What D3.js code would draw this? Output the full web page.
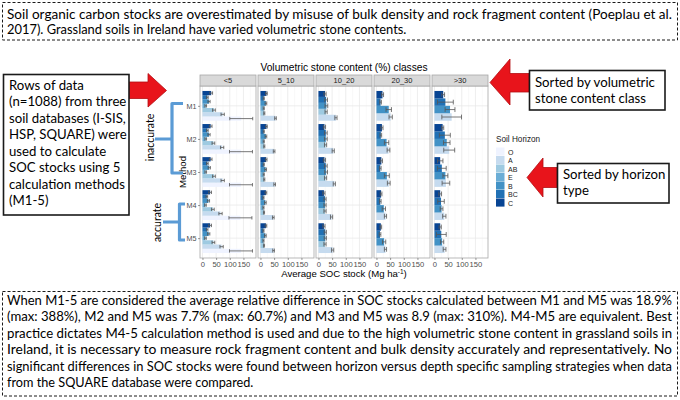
<!DOCTYPE html>
<html>
<head>
<meta charset="utf-8">
<script src="https://cdn.jsdelivr.net/npm/d3@7"></script>
<style>
  body { margin: 0; background: #fff; }
  svg { display: block; }
  .txt { font-family: Lato, "Open Sans", sans-serif; fill: #000; }
  .gg  { font-family: "Liberation Sans", Arial, sans-serif; }
</style>
</head>
<body>
<svg id="chart" width="680" height="400"></svg>
<script>
/* ------------------------------------------------------------
   Data: average SOC stock (Mg/ha) per calculation method,
   stone content class and soil horizon
   ------------------------------------------------------------ */
const methods = ['M1', 'M2', 'M3', 'M4', 'M5'];
const stoneClasses = ['<5', '5_10', '10_20', '20_30', '>30'];
const horizonLevels = ['O', 'A', 'AB', 'E', 'B', 'BC', 'C'];

// horizons present in each stone class
const horizonsLt5   = ['O', 'A', 'AB', 'E', 'B', 'BC', 'C'];
const horizons5_10  = ['A', 'AB', 'E', 'B', 'BC', 'C'];
const horizons10_20 = ['A', 'AB', 'B', 'BC', 'C'];
const horizons20_30 = ['A', 'B', 'BC', 'C'];
const horizonsGt30  = ['A', 'B', 'BC', 'C'];

// rows = M1..M5, columns follow the horizon list of the class
const socLt5 = [
  [142, 74, 42, 12, 24, 18, 32],
  [141, 72, 40, 12, 24, 18, 30],
  [141, 74, 42, 12, 25, 18, 30],
  [139, 66, 38, 11, 22, 16, 28],
  [141, 70, 40, 11, 23, 17, 28]
];
const errLt5 = [
  [42, 6, 5, 3, 4, 3, 5],
  [42, 6, 5, 3, 4, 3, 5],
  [42, 6, 5, 3, 4, 3, 5],
  [42, 6, 5, 3, 4, 3, 5],
  [42, 6, 5, 3, 4, 3, 5]
];

const soc5_10 = [
  [55, 14, 12, 20, 12, 22],
  [50, 14, 12, 20, 12, 22],
  [52, 14, 12, 19, 12, 21],
  [47, 13, 11, 18, 11, 20],
  [48, 13, 11, 18, 11, 20]
];
const err5_10 = [
  [3, 2, 2, 3, 2, 3],
  [3, 2, 2, 3, 2, 3],
  [3, 2, 2, 3, 2, 3],
  [3, 2, 2, 3, 2, 3],
  [3, 2, 2, 3, 2, 3]
];

const soc10_20 = [
  [64, 28, 29, 28, 24],
  [54, 26, 27, 27, 22],
  [58, 26, 28, 27, 22],
  [48, 24, 24, 24, 20],
  [52, 24, 25, 25, 20]
];
const err10_20 = [
  [4, 4, 5, 5, 4],
  [4, 4, 5, 5, 4],
  [4, 4, 5, 5, 4],
  [4, 4, 4, 4, 4],
  [4, 4, 4, 4, 4]
];

const soc20_30 = [
  [52, 45, 15, 22],
  [44, 37, 16, 20],
  [45, 38, 14, 18],
  [33, 27, 14, 17],
  [33, 28, 13, 16]
];
const err20_30 = [
  [6, 10, 3, 4],
  [5, 8, 3, 4],
  [5, 9, 3, 4],
  [4, 6, 3, 3],
  [4, 6, 3, 3]
];

const socGt30 = [
  [63, 57, 40, 32],
  [54, 45, 38, 30],
  [42, 40, 27, 21],
  [36, 26, 24, 21],
  [37, 28, 25, 21]
];
const errGt30 = [
  [36, 18, 29, 5],
  [20, 12, 20, 4],
  [14, 9, 16, 10],
  [6, 5, 12, 5],
  [5, 6, 18, 4]
];

const classHorizons = [horizonsLt5, horizons5_10, horizons10_20, horizons20_30, horizonsGt30];
const classMeans = [socLt5, soc5_10, soc10_20, soc20_30, socGt30];
const classErrs = [errLt5, err5_10, err10_20, err20_30, errGt30];

const xTicks = [0, 50, 100, 150];
const xMinor = [25, 75, 125, 175];

// text of the annotation boxes
const topLines = [
  'Soil organic carbon stocks are overestimated by misuse of bulk density and rock fragment content (Poeplau et al.',
  '2017). Grassland soils in Ireland have varied volumetric stone contents.'
];
const leftLines = [
  'Rows of data', '(n=1088) from three', 'soil databases (I-SIS,', 'HSP, SQUARE) were',
  'used to calculate', 'SOC stocks using 5', 'calculation methods', '(M1-5)'
];
const stoneNoteLines = ['Sorted by volumetric', 'stone content class'];
const horizonNoteLines = ['Sorted by horizon', 'type'];
const bottomLines = [
  'When M1-5 are considered the average relative difference in SOC stocks calculated between M1 and M5 was 18.9%',
  '(max: 388%), M2 and M5 was 7.7% (max: 60.7%) and M3 and M5 was 8.9 (max: 310%). M4-M5 are equivalent. Best',
  'practice dictates M4-5 calculation method is used and due to the high volumetric stone content in grassland soils in',
  'Ireland, it is necessary to measure rock fragment content and bulk density accurately and representatively. No',
  'significant differences in SOC stocks were found between horizon versus depth specific sampling strategies when data',
  'from the SQUARE database were compared.'
];

/* ------------------------------------------------------------
   Layout
   ------------------------------------------------------------ */
const svg = d3.select('#chart');
svg.append('rect').attr('width', 680).attr('height', 400).attr('fill', '#fff');

const PANEL = { left: 200, step: 58, width: 56, top: 86, bottom: 258, stripTop: 75 };
const BLUES = ['#eff3ff', '#c6dbef', '#9ecae1', '#6baed6', '#4292c6', '#2171b5', '#084594'];

const color = d3.scaleOrdinal().domain(horizonLevels).range(BLUES);
const x = d3.scaleLinear().domain([-9, 196]).range([0, PANEL.width]);
const y = d3.scalePoint().domain(methods).range([PANEL.top, PANEL.bottom]).padding(0.6);
const groupHalf = y.step() * 0.45;

/* ---------- facet panels ---------- */
stoneClasses.forEach(function(cls, i) {
  const g = svg.append('g')
    .attr('class', 'gg')
    .attr('transform', `translate(${PANEL.left + i * PANEL.step},0)`);

  // panel background + grid
  g.append('rect')
    .attr('y', PANEL.top).attr('width', PANEL.width).attr('height', PANEL.bottom - PANEL.top)
    .attr('fill', '#fff');

  g.selectAll('.minor').data(xMinor).join('line')
    .attr('x1', d => x(d)).attr('x2', d => x(d))
    .attr('y1', PANEL.top).attr('y2', PANEL.bottom)
    .attr('stroke', '#f3f3f3').attr('stroke-width', 0.5);

  g.selectAll('.major').data(xTicks).join('line')
    .attr('x1', d => x(d)).attr('x2', d => x(d))
    .attr('y1', PANEL.top).attr('y2', PANEL.bottom)
    .attr('stroke', '#e8e8e8').attr('stroke-width', 0.8);

  g.selectAll('.hgrid').data(methods).join('line')
    .attr('x1', 0).attr('x2', PANEL.width)
    .attr('y1', d => y(d)).attr('y2', d => y(d))
    .attr('stroke', '#e8e8e8').attr('stroke-width', 0.8);

  // dodged bars: first horizon at the bottom of each group
  const horizons = classHorizons[i];
  const inner = d3.scaleBand()
    .domain(horizons.slice().reverse())
    .range([-groupHalf, groupHalf]);
  const capHalf = Math.min(inner.bandwidth() * 0.4, 2.4);

  const rows = [];
  methods.forEach(function(m, mi) {
    horizons.forEach(function(h, hi) {
      rows.push({
        method: m, horizon: h,
        value: classMeans[i][mi][hi],
        err: classErrs[i][mi][hi]
      });
    });
  });

  g.selectAll('.bar').data(rows).join('rect')
    .attr('x', x(0))
    .attr('y', d => y(d.method) + inner(d.horizon))
    .attr('width', d => x(d.value) - x(0))
    .attr('height', inner.bandwidth())
    .attr('fill', d => color(d.horizon));

  const eb = g.selectAll('.err').data(rows).join('g')
    .attr('stroke', '#555').attr('stroke-width', 0.8).attr('fill', 'none');
  eb.append('line')
    .attr('x1', d => x(d.value - d.err)).attr('x2', d => x(d.value + d.err))
    .attr('y1', d => y(d.method) + inner(d.horizon) + inner.bandwidth() / 2)
    .attr('y2', d => y(d.method) + inner(d.horizon) + inner.bandwidth() / 2);
  [-1, 1].forEach(function(s) {
    eb.append('line')
      .attr('x1', d => x(d.value + s * d.err)).attr('x2', d => x(d.value + s * d.err))
      .attr('y1', d => y(d.method) + inner(d.horizon) + inner.bandwidth() / 2 - capHalf)
      .attr('y2', d => y(d.method) + inner(d.horizon) + inner.bandwidth() / 2 + capHalf);
  });

  // panel border
  g.append('rect')
    .attr('y', PANEL.top).attr('width', PANEL.width).attr('height', PANEL.bottom - PANEL.top)
    .attr('fill', 'none').attr('stroke', '#a8a8a8').attr('stroke-width', 0.8);

  // strip
  g.append('rect')
    .attr('y', PANEL.stripTop).attr('width', PANEL.width).attr('height', PANEL.top - PANEL.stripTop)
    .attr('fill', '#d9d9d9').attr('stroke', '#a8a8a8').attr('stroke-width', 0.8);
  g.append('text')
    .attr('x', PANEL.width / 2).attr('y', PANEL.top - 3)
    .attr('text-anchor', 'middle')
    .attr('font-size', 7.5).attr('fill', '#1a1a1a')
    .text(cls);

  // x axis
  const ax = g.append('g')
    .attr('transform', `translate(0,${PANEL.bottom})`)
    .call(d3.axisBottom(x).tickValues(xTicks).tickSize(2).tickPadding(1.5));
  ax.select('.domain').remove();
  ax.selectAll('line').attr('stroke', '#555').attr('stroke-width', 0.6);
  ax.selectAll('text').attr('font-size', 7.6).attr('fill', '#4d4d4d')
    .attr('font-family', '"Liberation Sans", Arial, sans-serif');

  // y axis on the first panel only
  if (i === 0) {
    const ay = g.append('g').call(d3.axisLeft(y).tickSize(2).tickPadding(1.5));
    ay.select('.domain').remove();
    ay.selectAll('line').attr('stroke', '#555').attr('stroke-width', 0.6);
    ay.selectAll('text').attr('font-size', 7.2).attr('fill', '#4d4d4d')
      .attr('font-family', '"Liberation Sans", Arial, sans-serif');
  }
});

const facetMid = PANEL.left + (PANEL.step * 4 + PANEL.width) / 2;

svg.append('text').attr('class', 'gg')
  .attr('x', facetMid).attr('y', 70.5)
  .attr('text-anchor', 'middle').attr('font-size', 10.2)
  .text('Volumetric stone content (%) classes');

const xTitle = svg.append('text').attr('class', 'gg')
  .attr('x', facetMid).attr('y', 277)
  .attr('text-anchor', 'middle').attr('font-size', 9.6);
xTitle.append('tspan').text('Average SOC stock (Mg ha');
xTitle.append('tspan').attr('dy', -3.5).attr('font-size', 6.5).text('-1');
xTitle.append('tspan').attr('dy', 3.5).text(')');

svg.append('text').attr('class', 'gg')
  .attr('transform', 'translate(185.5,172) rotate(-90)')
  .attr('text-anchor', 'middle').attr('font-size', 9.6)
  .text('Method');

/* ---------- legend ---------- */
const legend = svg.append('g').attr('class', 'gg').attr('transform', 'translate(496,0)');
legend.append('text').attr('x', 0).attr('y', 142)
  .attr('font-size', 8.2).attr('fill', '#1a1a1a').text('Soil Horizon');
const keyY = d3.scaleBand().domain(horizonLevels).range([147.5, 207]);
legend.selectAll('.key').data(horizonLevels).join('rect')
  .attr('x', 0).attr('y', d => keyY(d))
  .attr('width', 8.5).attr('height', keyY.bandwidth() - 0.4)
  .attr('fill', d => color(d));
legend.selectAll('.klab').data(horizonLevels).join('text')
  .attr('x', 12).attr('y', d => keyY(d) + keyY.bandwidth() - 1.5)
  .attr('font-size', 7).attr('fill', '#1a1a1a').text(d => d);

/* ---------- brackets ---------- */
const BRACKET = '#5b9bd5';
svg.append('path')
  .attr('d', 'M183,103.5 H172 V173 H183 M172,139 H155')
  .attr('fill', 'none').attr('stroke', BRACKET).attr('stroke-width', 3.2)
  .attr('stroke-linejoin', 'round');
svg.append('path')
  .attr('d', 'M185,204 H179.5 V240 H185 M179.5,222 H163')
  .attr('fill', 'none').attr('stroke', BRACKET).attr('stroke-width', 3.2)
  .attr('stroke-linejoin', 'round');
svg.append('text').attr('class', 'txt')
  .attr('transform', 'translate(153.5,137.5) rotate(-90)')
  .attr('text-anchor', 'middle').attr('font-size', 10.5).text('inaccurate');
svg.append('text').attr('class', 'txt')
  .attr('transform', 'translate(160.5,222.5) rotate(-90)')
  .attr('text-anchor', 'middle').attr('font-size', 10.5).text('accurate');

/* ---------- red arrows ---------- */
function arrow(points) {
  svg.append('polygon')
    .attr('points', points.map(p => p.join(',')).join(' '))
    .attr('fill', '#e8141b').attr('stroke', '#b30d12').attr('stroke-width', 0.8);
}
// left box -> chart
arrow([[129, 82], [148, 82], [148, 73.5], [166.5, 90.5], [148, 107], [148, 98.5], [129, 98.5]]);
// strips <- note
arrow([[529, 73.5], [510, 73.5], [510, 59], [490, 82.5], [510, 105], [510, 92], [529, 92]]);
// legend <- note
arrow([[557, 167.5], [543, 167.5], [543, 158], [527, 177.5], [543, 197], [543, 187.5], [557, 187.5]]);

/* ---------- text boxes ---------- */
function box(x0, y0, w, h, dashed) {
  svg.append('rect')
    .attr('x', x0).attr('y', y0).attr('width', w).attr('height', h)
    .attr('fill', '#fff').attr('stroke', '#1a1a1a')
    .attr('stroke-width', dashed ? 1 : 1.6)
    .attr('stroke-dasharray', dashed ? '3,2' : null);
}
function lines(arr, x0, y0, dy, size, justifyWidth) {
  arr.forEach(function(t, i) {
    const el = svg.append('text').attr('class', 'txt')
      .attr('x', x0).attr('y', y0 + i * dy)
      .attr('font-size', size)
      .text(t);
    if (justifyWidth && i < arr.length - 1) {
      el.attr('textLength', justifyWidth).attr('lengthAdjust', 'spacingAndGlyphs');
    }
  });
}

box(2.5, 2.5, 675, 37.5, true);
lines(topLines, 7, 18.5, 15, 12.9, 665);

box(3.5, 74.5, 125.5, 140.5, false);
lines(leftLines, 9, 90, 16.45, 13.2);

box(529.5, 70.5, 135.5, 39.5, false);
lines(stoneNoteLines, 535, 87, 16, 13.2);

box(557.5, 163.5, 111.5, 39.5, false);
lines(horizonNoteLines, 563, 179, 16, 13.2);

box(2.5, 291.5, 675, 104.5, true);
lines(bottomLines, 7, 305, 16.4, 12.7, 665);
</script>
</body>
</html>
